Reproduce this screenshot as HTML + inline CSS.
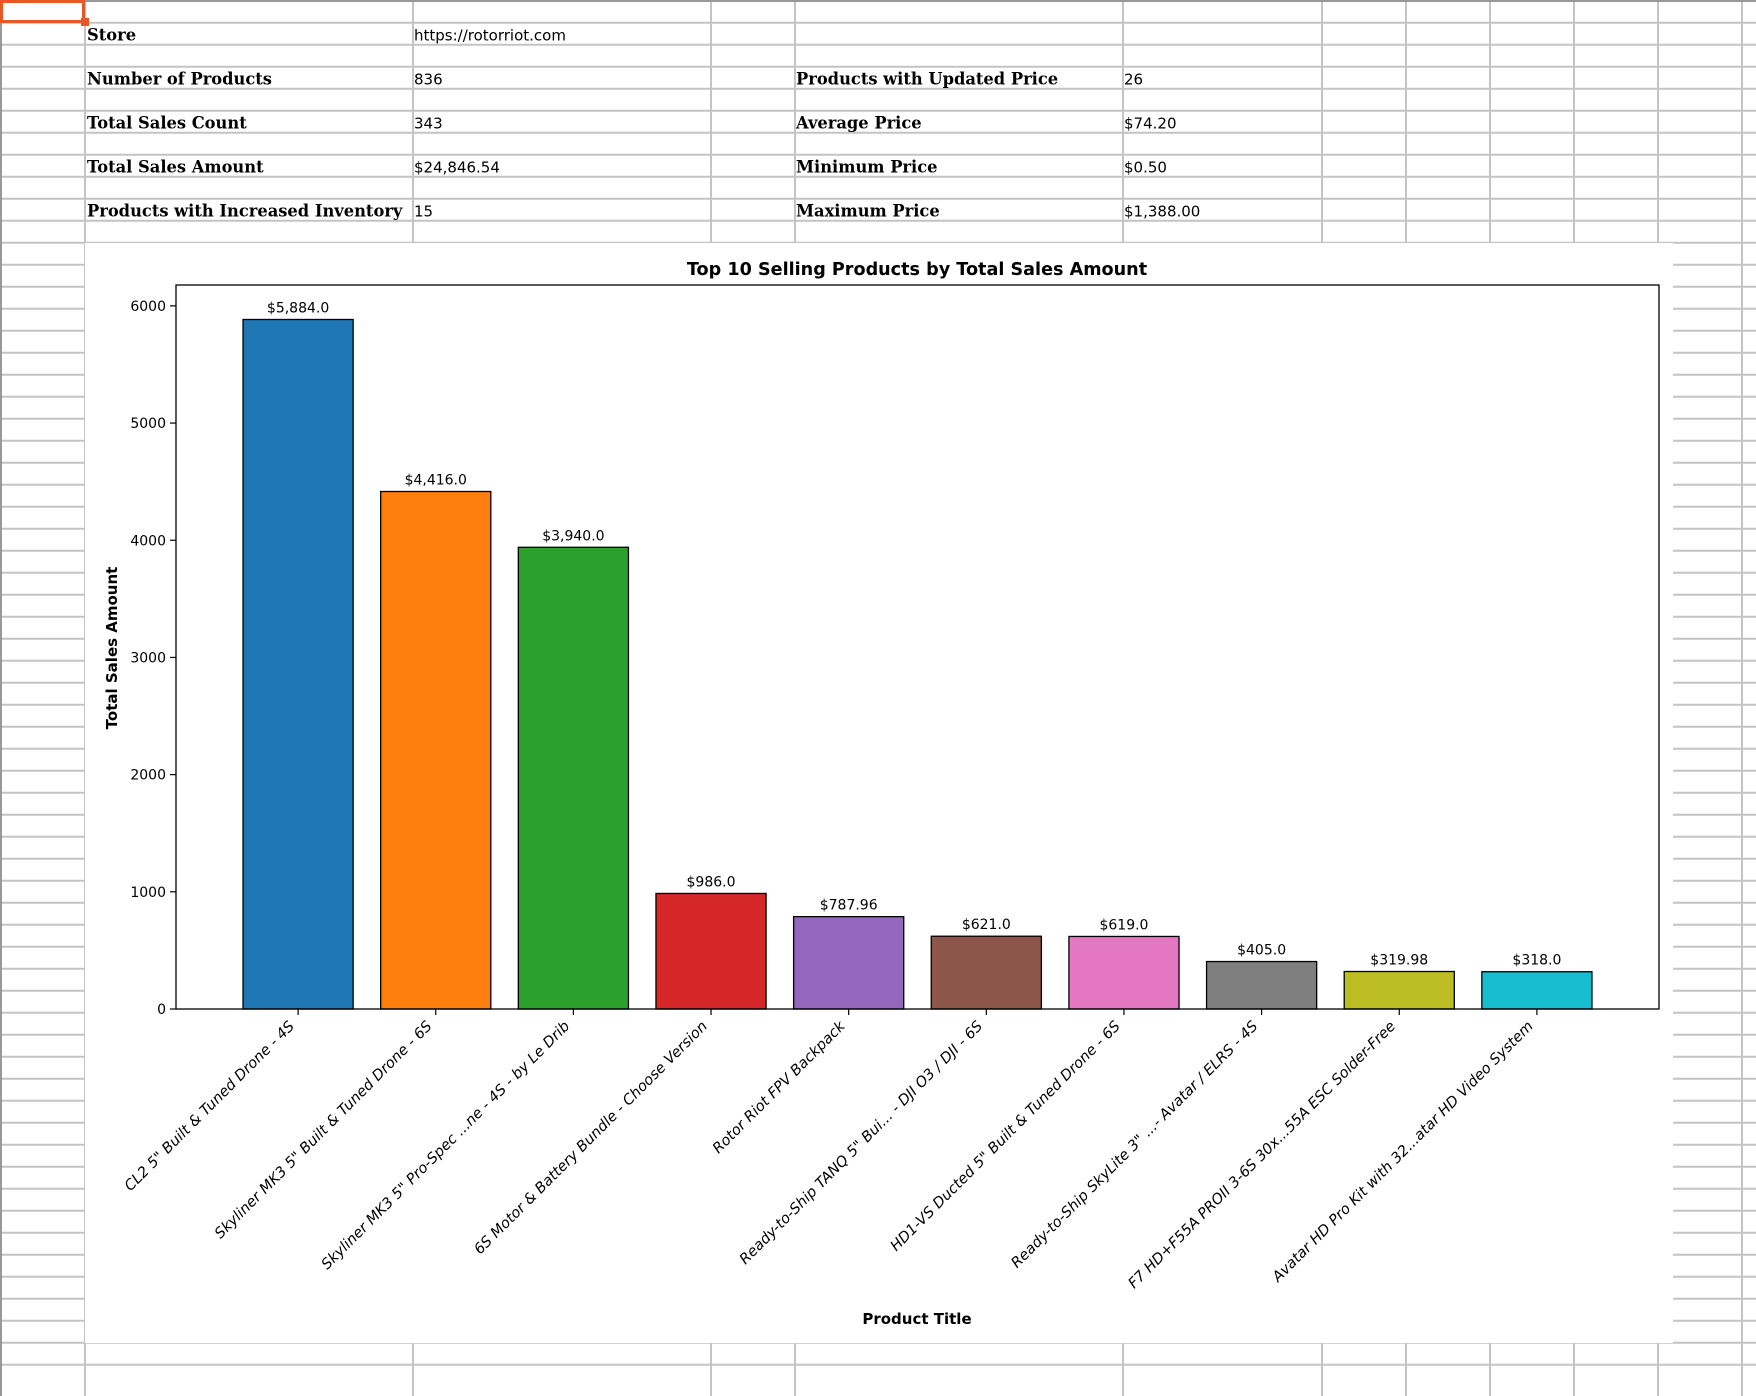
<!DOCTYPE html>
<html><head><meta charset="utf-8"><style>
html,body{margin:0;padding:0;background:#fff;}
svg{display:block;}
.lbl{font-family:"DejaVu Serif","Liberation Serif",serif;font-weight:bold;font-size:16.3px;fill:#000;}
.val{font-family:"DejaVu Sans","Liberation Sans",sans-serif;font-size:15px;fill:#000;}
.tick{font-family:"DejaVu Sans","Liberation Sans",sans-serif;font-size:14px;fill:#000;}
.xt{font-family:"DejaVu Sans","Liberation Sans",sans-serif;font-size:14.6px;font-style:italic;fill:#000;}
</style></head><body>
<svg id="sheet" width="1756" height="1396" xmlns="http://www.w3.org/2000/svg">
<g id="grid"></g>
<rect x="85" y="243" width="1588" height="1100" fill="#fff"/>
<g id="hdr"></g>
<rect x="1.5" y="1.5" width="82" height="20" fill="none" stroke="#e8572a" stroke-width="3"/>
<rect x="81" y="18" width="8" height="8" fill="#e8572a"/>
<g id="chart"></g>
</svg>
<script>
const categories=['CL2 5" Built & Tuned Drone - 4S','Skyliner MK3 5" Built & Tuned Drone - 6S','Skyliner MK3 5" Pro-Spec ...ne - 4S - by Le Drib','6S Motor & Battery Bundle - Choose Version','Rotor Riot FPV Backpack','Ready-to-Ship TANQ 5" Bui... - DJI O3 / DJI - 6S','HD1-VS Ducted 5" Built & Tuned Drone - 6S','Ready-to-Ship SkyLite 3" ...- Avatar / ELRS - 4S','F7 HD+F55A PROII 3-6S 30x...55A ESC Solder-Free','Avatar HD Pro Kit with 32...atar HD Video System'];
const salesValues=[5884.0,4416.0,3940.0,986.0,787.96,621.0,619.0,405.0,319.98,318.0];
const valueLabels=['$5,884.0','$4,416.0','$3,940.0','$986.0','$787.96','$621.0','$619.0','$405.0','$319.98','$318.0'];
const yTicks=[0,1000,2000,3000,4000,5000,6000];
const colors=['#1f77b4','#ff7f0e','#2ca02c','#d62728','#9467bd','#8c564b','#e377c2','#7f7f7f','#bcbd22','#17becf'];
const summaryLeft=[['Store','https://rotorriot.com',1],['Number of Products','836',3],['Total Sales Count','343',5],['Total Sales Amount','$24,846.54',7],['Products with Increased Inventory','15',9]];
const summaryRight=[['Products with Updated Price','26',3],['Average Price','$74.20',5],['Minimum Price','$0.50',7],['Maximum Price','$1,388.00',9]];

const NS='http://www.w3.org/2000/svg';
function mk(tag,attrs,parent,text){const e=document.createElementNS(NS,tag);for(const k in attrs)e.setAttribute(k,attrs[k]);if(text!==undefined)e.textContent=text;parent.appendChild(e);return e;}
const grid=document.getElementById('grid');
const cols=[85,413,711,795,1123,1322,1406,1490,1574,1658,1742];
const rowY=k=>22.7+22*k;
for(let k=0;k<62;k++){const y=rowY(k);
 let l=mk('line',{x1:0,x2:1756,y1:y,y2:y,stroke:'#c4c4c4','stroke-width':2},grid);
 
 }
cols.forEach(x=>{let l=mk('line',{x1:x,x2:x,y1:0,y2:1396,stroke:'#c4c4c4','stroke-width':2},grid);
 
 });
mk('line',{x1:1,x2:1,y1:0,y2:1396,stroke:'#999','stroke-width':2},grid);
mk('line',{x1:0,x2:1756,y1:1,y2:1,stroke:'#999','stroke-width':2},grid);
const hdr=document.getElementById('hdr');
summaryLeft.forEach(r=>{const y=rowY(r[2])-4;
 let a=mk('text',{x:87,y:y,class:'lbl'},hdr,r[0]);
 let b=mk('text',{x:414,y:y,class:'val'},hdr,r[1]);});
summaryRight.forEach(r=>{const y=rowY(r[2])-4;
 let a=mk('text',{x:796,y:y,class:'lbl'},hdr,r[0]);
 let b=mk('text',{x:1124,y:y,class:'val'},hdr,r[1]);});
const ch=document.getElementById('chart');
const L=176,R=1659,T=285,B=1009;
const yMax=Math.max(...salesValues)*1.05;
const yS=v=>B-(v/yMax)*(B-T);
const n=categories.length;
const xS=i=>L+(R-L)*(i+0.4+0.487)/(n-1+0.8+0.974);
const bw=(R-L)/(n-1+0.8+0.974)*0.8;
let t=mk('text',{x:917,y:275,'text-anchor':'middle','font-family':'DejaVu Sans, Liberation Sans, sans-serif','font-weight':'bold','font-size':'17.6px'},ch,'Top 10 Selling Products by Total Sales Amount');

salesValues.forEach((v,i)=>{const x=xS(i);
 let r=mk('rect',{x:x-bw/2,y:yS(v),width:bw,height:B-yS(v),fill:colors[i],stroke:'#000','stroke-width':1.3},ch);
 
 let tl=mk('text',{x:x,y:yS(v)-7,'text-anchor':'middle',class:'tick'},ch,valueLabels[i]);
 
 mk('line',{x1:x,x2:x,y1:B,y2:B+6,stroke:'#000','stroke-width':1.2},ch);
 const ax=x-3, ay=B+18;
 let cl=mk('text',{x:ax,y:ay,'text-anchor':'end',class:'xt',transform:`rotate(-45 ${ax} ${ay})`},ch,categories[i]);
 });
yTicks.forEach(v=>{const y=yS(v);
 mk('line',{x1:L-6,x2:L,y1:y,y2:y,stroke:'#000','stroke-width':1.2},ch);
 let yt=mk('text',{x:L-10,y:y+5,'text-anchor':'end',class:'tick'},ch,String(v));
 });
let fr=mk('rect',{x:L,y:T,width:R-L,height:B-T,fill:'none',stroke:'#000','stroke-width':1.3},ch);

let yl=mk('text',{x:0,y:0,'text-anchor':'middle','font-family':'DejaVu Sans, Liberation Sans, sans-serif','font-weight':'bold','font-size':'15px',transform:'translate(117 648) rotate(-90)'},ch,'Total Sales Amount');

let xl=mk('text',{x:917,y:1324,'text-anchor':'middle','font-family':'DejaVu Sans, Liberation Sans, sans-serif','font-weight':'bold','font-size':'15px'},ch,'Product Title');

</script>
</body></html>
